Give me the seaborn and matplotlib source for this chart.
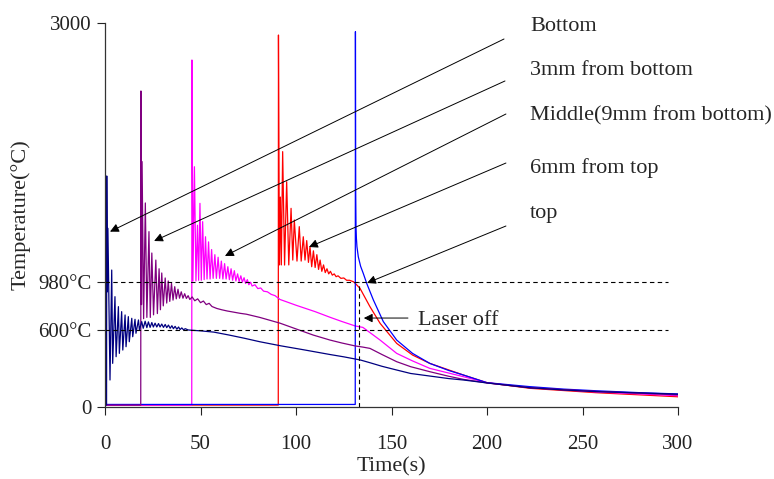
import pandas as pd
import numpy as np
import matplotlib
matplotlib.use('Agg')
import matplotlib.pyplot as plt
import seaborn as sns

# Temperature histories (time in s, temperature in degC)
bottom_t = [0, 0.8, 0.9, 1.2, 1.5, 2.6, 3.5, 4.0, 5.2, 5.8, 7.0, 7.5, 8.7, 9.3, 10.5, 11.0,
            12.2, 12.7, 14.0, 14.5, 15.7, 16.2, 17.5, 18.0, 19.2, 20.0, 21.0, 21.9, 22.7, 23.6,
            24.5, 25.3, 26.2, 27.1, 28.0, 28.8, 29.7, 30.6, 31.5, 32.3, 33.2, 34.1, 35.0, 35.8,
            36.7, 37.6, 38.5, 39.3, 40.2, 41.1, 42.0, 43.5, 45.0, 50.0, 57.0, 65.0, 73.0, 81.0,
            92.0, 104.0, 117.8, 125.0, 131.0, 134.0, 138.7, 145.0, 152.7, 160.0, 170.0, 180.0,
            187.6, 200.0, 222.5, 240.0, 257.0, 280.0, 300.0]
bottom_T = [15, 15, 1805, 900, 1396, 211, 1070, 341, 862, 393, 784, 419, 745, 445, 719, 471,
            706, 510, 693, 549, 685, 576, 680, 601, 667, 615, 670, 620, 665, 622,
            660, 625, 655, 625, 652, 625, 648, 622, 645, 620, 640, 615, 635, 612,
            630, 608, 625, 605, 618, 603, 612, 602, 600, 595, 585, 562, 537, 510,
            478, 447, 410, 392, 375, 366, 346, 318, 289, 262, 242, 222,
            211, 188, 150, 133, 120, 110, 100]

mm3_t = [0, 18.7, 18.8, 19.1, 19.4, 20.2, 21.1, 21.9, 23.0, 23.7, 24.5, 25.4, 26.6, 27.4, 28.3,
         29.0, 29.7, 30.5, 31.5, 32.3, 33.1, 33.9, 34.8, 35.6, 36.5, 37.3, 38.2, 39.0, 39.9,
         40.8, 41.7, 42.6, 43.5, 44.4, 45.6, 47.0, 48.5, 50.0, 51.5, 53.0, 54.5, 56.0, 58.5,
         61.0, 64.0, 67.0, 70.7, 74.0, 81.0, 91.6, 100.0, 109.0, 117.8, 124.0, 131.0, 135.0,
         138.7, 145.0, 152.7, 160.0, 170.0, 180.0, 187.6, 200.0, 222.5, 257.0, 300.0]
mm3_T = [15, 15, 2469, 800, 1917, 690, 1594, 700, 1370, 700, 1203, 720, 1148, 730, 1080,
         760, 1047, 790, 1008, 812, 985, 825, 965, 835, 940, 845, 920, 850, 900,
         850, 885, 848, 870, 840, 860, 830, 845, 815, 828, 800, 810, 785, 770,
         760, 750, 742, 732, 725, 700, 655, 610, 562, 523, 500, 477, 468,
         458, 410, 354, 315, 276, 240, 216, 188, 150, 122, 95]

middle_t = [0, 45.4, 45.5, 46.0, 46.8, 47.6, 48.4, 49.0, 49.7, 50.4, 51.1, 51.9, 52.6, 53.4,
            54.2, 55.0, 55.8, 56.6, 57.5, 58.3, 59.2, 60.0, 60.9, 61.7, 62.6, 63.4, 64.3, 65.1,
            66.0, 66.8, 67.7, 68.5, 69.4, 70.2, 71.1, 71.9, 72.8, 73.6, 74.5, 75.3, 76.2, 77.0,
            78.5, 80.0, 81.5, 83.0, 85.0, 87.0, 89.0, 91.6, 95.0, 100.0, 105.0, 110.0, 117.8,
            124.0, 131.0, 135.0, 144.0, 152.7, 161.0, 170.0, 187.6, 200.0, 222.5, 257.0, 300.0]
middle_T = [15, 15, 2711, 985, 1877, 985, 1420, 990, 1591, 990, 1448, 995, 1330, 1000,
            1290, 1000, 1230, 1005, 1190, 1005, 1170, 1005, 1140, 1000, 1120, 1000, 1096, 995,
            1080, 990, 1065, 985, 1040, 980, 1025, 975, 1010, 965, 995, 955, 975, 945,
            955, 925, 930, 905, 900, 880, 870, 840, 822, 795, 770, 745, 701,
            668, 633, 622, 523, 419, 360, 302, 237, 190, 152, 118, 88]

mm6_t = [0, 90.7, 90.8, 91.3, 91.8, 92.3, 93.0, 94.0, 95.1, 96.2, 97.4, 98.3, 99.1, 100.5,
         101.7, 102.7, 103.8, 104.7, 105.6, 106.5, 107.3, 108.2, 109.1, 110.0, 110.9, 111.8,
         112.6, 113.5, 114.4, 115.3, 116.2, 117.1, 118.0, 119.0, 120.0, 121.0, 122.0, 123.5,
         125.0, 126.5, 128.0, 130.0, 131.0, 133.5, 138.7, 144.0, 152.7, 161.0, 170.0, 187.6,
         200.0, 222.5, 257.0, 300.0]
mm6_T = [15, 15, 2906, 1110, 1640, 1110, 1995, 1109, 1760, 1110, 1552, 1148, 1461, 1140,
         1409, 1140, 1330, 1148, 1300, 1130, 1252, 1096, 1220, 1090, 1190, 1075,
         1148, 1060, 1110, 1050, 1080, 1040, 1060, 1030, 1040, 1018, 1025, 1005,
         1008, 990, 990, 979, 966, 927, 784, 654, 497, 406, 341, 250,
         190, 146, 112, 80]

top_t = [0, 131.0, 131.1, 131.25, 131.4, 131.6, 131.9, 132.6, 133.8, 135.2, 137.0, 140.5, 145.7,
         152.7, 161.0, 170.0, 180.0, 187.6, 200.0, 222.5, 240.0, 257.0, 280.0, 300.0]
top_T = [20, 20, 2932, 1670, 1410, 1320, 1252, 1174, 1100, 1044, 966, 836, 667,
         523, 419, 341, 285, 250, 190, 159, 140, 127, 112, 102]

series_names = ['Bottom', '3mm from bottom', 'Middle(9mm from bottom)', '6mm from top', 'top']
series_colors = ['#000080', '#800080', '#FF00FF', '#FF0000', '#0000FF']

laser_off_time = 133
level_hi = 980
level_lo = 600

sns.set_style('ticks')
plt.rcParams['font.family'] = ['Liberation Serif', 'DejaVu Serif']

fig = plt.figure(figsize=(7.74, 4.79), dpi=100)
ax = fig.add_axes([0.1357, 0.1503, 0.7403, 0.8017])

frames = {
    'top': pd.DataFrame({'t': top_t, 'T': top_T}),
    '6mm from top': pd.DataFrame({'t': mm6_t, 'T': mm6_T}),
    'Middle(9mm from bottom)': pd.DataFrame({'t': middle_t, 'T': middle_T}),
    '3mm from bottom': pd.DataFrame({'t': mm3_t, 'T': mm3_T}),
    'Bottom': pd.DataFrame({'t': bottom_t, 'T': bottom_T}),
}
draw_order = ['6mm from top', 'Middle(9mm from bottom)', 'top', '3mm from bottom', 'Bottom']
for name in draw_order:
    col = series_colors[series_names.index(name)]
    sns.lineplot(data=frames[name], x='t', y='T', ax=ax, color=col, lw=0.9,
                 estimator=None, sort=False, legend=False)

# reference levels and laser-off marker
ax.plot([0, 295], [level_hi, level_hi], ls=(0, (4, 3)), color='black', lw=0.8)
ax.plot([0, 295], [level_lo, level_lo], ls=(0, (4, 3)), color='black', lw=0.8)
ax.plot([laser_off_time, laser_off_time], [0, level_hi], ls=(0, (4, 3)), color='black', lw=0.8)

# callouts
arrow_kw = dict(arrowstyle='-|>', color='black', lw=0.7, mutation_scale=13, shrinkA=0, shrinkB=0)
callouts = [((208.9, 2875), (2.6, 1370)),
            ((209.4, 2547), (25.7, 1297)),
            ((209.9, 2289), (62.8, 1180)),
            ((209.9, 1906), (106.8, 1250)),
            ((209.9, 1414), (137.2, 969))]
label_y = [2940, 2594, 2237, 1826, 1474]
for (tail, head), name, ly in zip(callouts, series_names, label_y):
    ax.annotate('', xy=head, xytext=tail, arrowprops=arrow_kw, annotation_clip=False)
    ax.text(222.5, ly, name, fontsize=16, ha='left', va='baseline', clip_on=False)

ax.annotate('', xy=(135.5, 695), xytext=(158.6, 695), arrowprops=arrow_kw, annotation_clip=False)
ax.text(163.9, 641, 'Laser off', fontsize=16, ha='left', va='baseline')

ax.set_xlim(0, 300)
ax.set_ylim(0, 3000)
ax.set_xticks(range(0, 301, 50))
ax.set_yticks([0, 600, 980, 3000])
ax.set_yticklabels(['0', '600°C', '980°C', '3000'])
ax.tick_params(axis='both', direction='out', length=6, width=0.8, colors='#222222', labelsize=15)
ax.tick_params(axis='x', pad=14)
ax.tick_params(axis='y', pad=4)
ax.set_xlabel('Time(s)', fontsize=16)
ax.set_ylabel('Temperature(°C)', fontsize=16)
ax.xaxis.set_label_coords(0.5, -0.13)
ax.yaxis.set_label_coords(-0.13, 0.5)
sns.despine(ax=ax)
for s in ['left', 'bottom']:
    ax.spines[s].set_color('#333333')
    ax.spines[s].set_linewidth(0.9)

fig.savefig('out.png', dpi=100)
